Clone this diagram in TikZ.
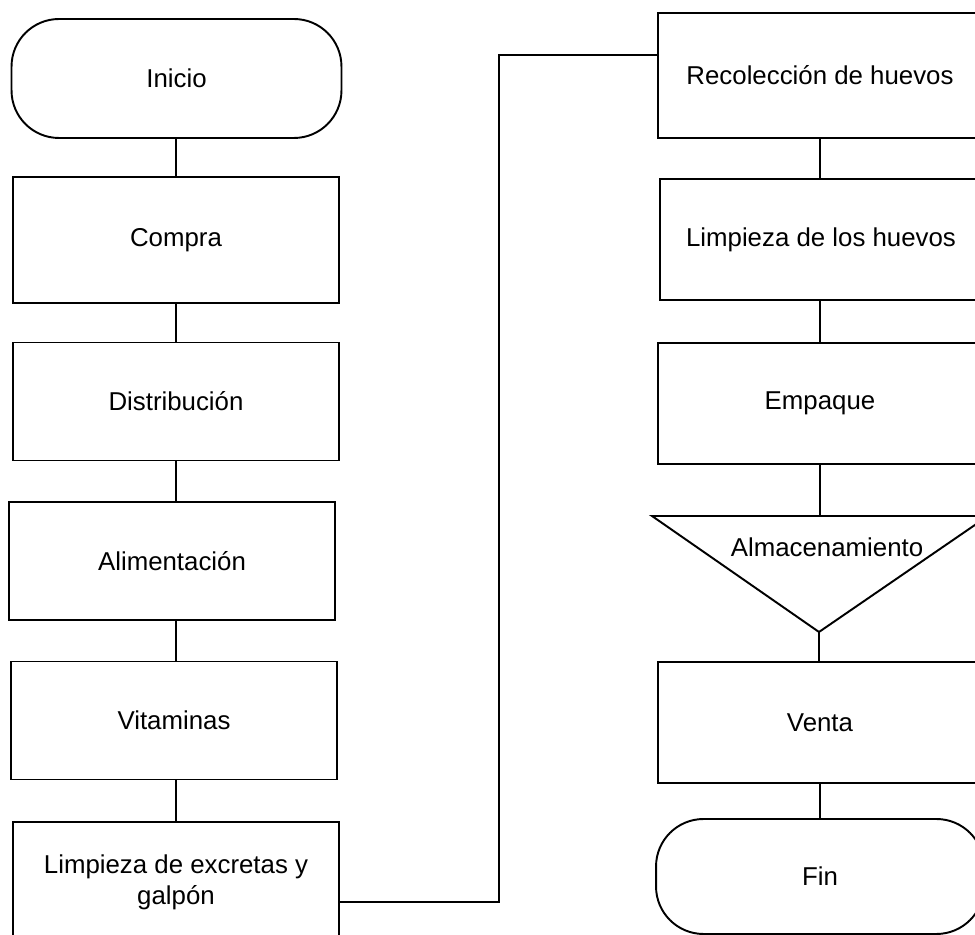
\documentclass[tikz,border=0pt]{standalone}
\usepackage{fontspec}
\setmainfont{Liberation Sans}

\begin{document}
\begin{tikzpicture}
   [
      x=0.02cm, y=-0.02cm,
      line width=1.1pt,
      texto/.style={font=\fontsize{14.7}{17.5}\selectfont, align=center},
      paso/.style={texto, rectangle, draw, inner sep=0pt, minimum width=6.52cm,
      minimum height=2.36cm},
      terminal/.style={paso, rounded corners=0.95cm, minimum width=6.6cm}
   ]
   \useasboundingbox (0,0) rectangle (975,935);
   \clip (0,0) rectangle (975,935);

   % columna izquierda
   \node[terminal, minimum height=2.38cm] (inicio) at (176.5,78.5) {Inicio};
   \node[paso, minimum height=2.52cm] (compra) at (176,240) {Compra};
   \node[paso] (distrib) at (176,401.5) {Distribución};
   \node[paso] (aliment) at (172,561) {Alimentación};
   \node[paso] (vitam) at (174,720.5) {Vitaminas};
   \node[paso, minimum height=2.4cm] (limpieza) at (176,882)
      {Limpieza de excretas y\\galpón};

   % columna derecha
   \node[paso, minimum width=6.48cm, minimum height=2.5cm] (recol) at (820,75.5)
      {Recolección de huevos};
   \node[paso, minimum width=6.44cm, minimum height=2.42cm] (limpH) at (821,239.5)
      {Limpieza de los huevos};
   \node[paso, minimum width=6.48cm, minimum height=2.42cm] (empaque) at (820,403.5)
      {Empaque};
   \coordinate (almacA) at (652,516);
   \coordinate (almacB) at (988,516);
   \coordinate (almacC) at (819,632);
   \draw (almacA) -- (almacB) -- (almacC) -- cycle;
   \node[texto] (almac) at (827,547) {Almacenamiento};
   \node[paso, minimum width=6.48cm, minimum height=2.42cm] (venta) at (820,722.5)
      {Venta};
   \node[terminal, minimum width=6.56cm, minimum height=2.3cm] (fin) at (820,876.5)
      {Fin};

   % conectores
   \coordinate (colL) at (176,0);
   \coordinate (colR) at (820,0);
   \foreach \a/\b in {inicio/compra,compra/distrib,distrib/aliment,aliment/vitam,vitam/limpieza}
      \draw (\a.south -| colL) -- (\b.north -| colL);
   \foreach \a/\b in {recol/limpH,limpH/empaque,venta/fin}
      \draw (\a.south -| colR) -- (\b.north -| colR);
   \draw (empaque.south -| colR) -- (almacA -| colR);
   \draw (almacC) -- (venta.north -| almacC);

   \coordinate (codo1) at (499,902);
   \coordinate (codo2) at (499,55);
   \draw (limpieza.east |- codo1) -- (codo1) -- (codo2) -- (recol.west |- codo2);
\end{tikzpicture}
\end{document}
